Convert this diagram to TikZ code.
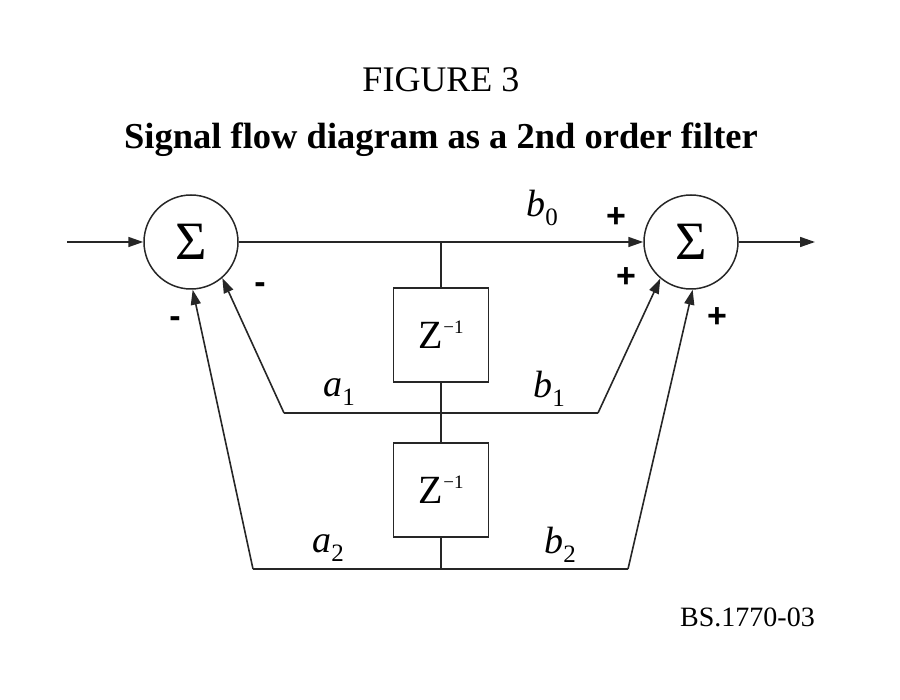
\documentclass[tikz,border=0pt]{standalone}
\usepackage{fontspec}
\setmainfont{Liberation Serif}
\newfontfamily\signfont{Liberation Sans}
\usetikzlibrary{arrows.meta}
\newcommand{\lab}[2]{{\fontsize{38}{40}\selectfont\itshape #1}\raisebox{-9pt}{\fontsize{25}{25}\selectfont #2}}
\newcommand{\zinv}{{\fontsize{40}{42}\selectfont Z}\raisebox{15pt}{\fontsize{19}{19}\selectfont \kern0.5pt−1}}
\tikzset{
  wire/.style={line width=1.6pt, draw=black!85},
  arr/.style={wire, -{Triangle[length=15pt,width=10pt]}},
  sumnode/.style={circle, draw=black!85, line width=1.5pt, minimum size=94pt, inner sep=0pt, font=\fontsize{54}{56}\selectfont},
  delaybox/.style={rectangle, draw=black!85, line width=1.5pt, minimum width=95pt, minimum height=94pt, inner sep=0pt},
  sign/.style={font=\signfont\bfseries\fontsize{34}{34}\selectfont, inner sep=0pt},
  lbl/.style={inner sep=0pt}
}
\begin{document}
\begin{tikzpicture}[x=1pt,y=-1pt]
\useasboundingbox (0,0) rectangle (900,700);
\node[inner sep=0pt, font=\fontsize{36}{38}\selectfont] (fig) at (441,80) {FIGURE 3};
\node[inner sep=0pt, font=\fontsize{36.5}{38}\selectfont\bfseries] (title) at (441,140) {Signal flow diagram as a 2nd order filter};
\node[inner sep=0pt, font=\fontsize{28}{30}\selectfont, anchor=east] (ref) at (815,617) {BS.1770-03};

\node[sumnode] (sumL) at (191,242) {Σ};
\node[sumnode] (sumR) at (691,242) {Σ};
\node[delaybox] (z1) at (441,335) {\zinv};
\node[delaybox] (z2) at (441,490) {\zinv};

\coordinate (in) at (67,242);
\coordinate (out) at (815,242);
\coordinate (j0) at (441,242);
\coordinate (j1) at (441,413);
\coordinate (j2) at (441,569);
\coordinate (a1c) at (284,413);
\coordinate (b1c) at (598,413);
\coordinate (a2c) at (253,569);
\coordinate (b2c) at (628,569);

\draw[arr] (in) -- (sumL);
\draw[arr] (sumL) -- (sumR);
\draw[arr] (sumR) -- (out);
\draw[wire] (j0) -- (z1.north);
\draw[wire] (z1.south) -- (j1) -- (z2.north);
\draw[wire] (z2.south) -- (j2);
\draw[wire] (a1c) -- (b1c);
\draw[wire] (a2c) -- (b2c);
\draw[arr] (a1c) -- (sumL.-49);
\draw[arr] (a2c) -- (sumL.-88);
\draw[arr] (b1c) -- (sumR.-130);
\draw[arr] (b2c) -- (sumR.-88);

\node[lbl] (lb0) at (542,208) {\lab{b}{0}};
\node[lbl] (la1) at (339,392) {\lab{a}{1}};
\node[lbl] (lb1) at (549,389) {\lab{b}{1}};
\node[lbl] (la2) at (328,548) {\lab{a}{2}};
\node[lbl] (lb2) at (560,545) {\lab{b}{2}};

\node[sign] (p0) at (616,218) {+};
\node[sign] (p1) at (626,278) {+};
\node[sign] (p2) at (717,318) {+};
\node[sign] (m1) at (260,288) {-};
\node[sign] (m2) at (175,322) {-};
\end{tikzpicture}
\end{document}
